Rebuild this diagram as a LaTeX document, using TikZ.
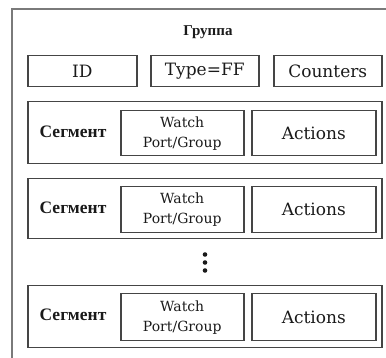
\documentclass[tikz,border=0pt]{standalone}
\usepackage{fontspec}
\setmainfont{DejaVu Serif}
\newfontfamily\rufont{Liberation Serif}
\definecolor{linec}{HTML}{454545}
\definecolor{outerc}{HTML}{7A7A7A}
\definecolor{txt}{HTML}{1A1A1A}
\begin{document}
\begin{tikzpicture}[x=1pt,y=-1pt,
  box/.style={draw=linec, line width=1.5pt, inner sep=0pt, anchor=north west, text=txt},
  big/.style={font=\fontsize{17}{19}\selectfont},
  small/.style={font=\fontsize{14}{20}\selectfont, align=center, text=txt},
  seglabel/.style={text=txt, font=\rufont\bfseries\fontsize{17.5}{18}\selectfont},
  title/.style={text=txt, font=\rufont\bfseries\fontsize{15}{17}\selectfont},
  dot/.style={circle, fill=txt, inner sep=0pt, minimum size=4.6pt}
]
\useasboundingbox (0,0) rectangle (386,358);
\draw[outerc, line width=1.8pt] (12,368) -- (12,9) -- (396,9) -- (396,368);
\node[title] (grp) at (208,32) {Группа};
\node[box, big, minimum width=109pt, minimum height=31pt] (id) at (27,55) {ID};
\node[box, big, minimum width=108pt, minimum height=31pt] (type) at (150,55) {Type=FF};
\node[box, big, minimum width=108pt, minimum height=31pt] (cnt) at (273,55) {Counters};
% segment 1
\node[box, minimum width=354pt, minimum height=62pt] (s1) at (27,101) {};
\node[seglabel] (l1) at (73,132) {Сегмент};
\node[box, small, minimum width=123pt, minimum height=45pt] (w1) at (120,110) {Watch\\Port/Group};
\node[box, big, minimum width=124pt, minimum height=45pt] (a1) at (251,110) {Actions};
% segment 2
\node[box, minimum width=354pt, minimum height=60pt] (s2) at (27,178) {};
\node[seglabel] (l2) at (73,208) {Сегмент};
\node[box, small, minimum width=123pt, minimum height=46pt] (w2) at (120,186) {Watch\\Port/Group};
\node[box, big, minimum width=124pt, minimum height=46pt] (a2) at (251,186) {Actions};
% dots
\node[dot] (d1) at (205,254.5) {};
\node[dot] (d2) at (205,262.5) {};
\node[dot] (d3) at (205,270.5) {};
% segment 3
\node[box, minimum width=354pt, minimum height=62pt] (s3) at (27,285) {};
\node[seglabel] (l3) at (73,315) {Сегмент};
\node[box, small, minimum width=123pt, minimum height=47pt] (w3) at (120,293) {Watch\\Port/Group};
\node[box, big, minimum width=124pt, minimum height=47pt] (a3) at (251,293) {Actions};
\end{tikzpicture}
\end{document}
